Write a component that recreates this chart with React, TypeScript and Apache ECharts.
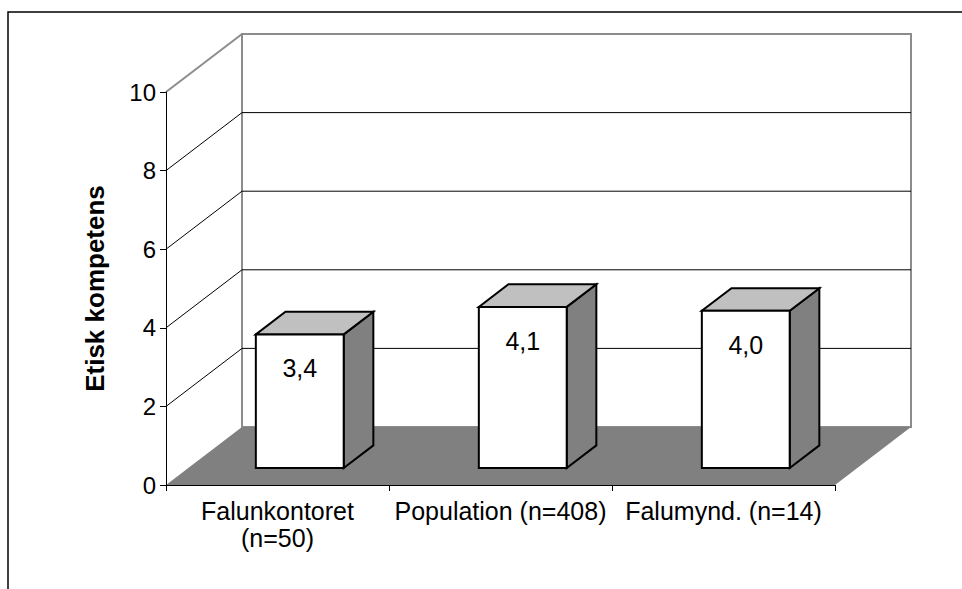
import React, { useEffect, useRef } from "react";
import * as echarts from "echarts";

const categories = ["Falunkontoret\n(n=50)", "Population (n=408)", "Falumynd. (n=14)"];
const values = [3.4, 4.1, 4.0];
const yMin = 0;
const yMax = 10;
const yStep = 2;
const axisTitle = "Etisk kompetens";

const FONT = "'Liberation Sans', Arial, sans-serif";
const DX = 76; // depth offset x
const DY = 58; // depth offset y
const FRONT = 0.293; // bar front face depth fraction
const BDEPTH = 0.39; // bar depth fraction
const BARW = 0.394; // bar width fraction of band

function fmt(v: number) {
  return v.toFixed(1).replace(".", ",");
}

export default function App() {
  const ref = useRef<HTMLDivElement>(null);
  useEffect(() => {
    if (!ref.current) return;
    const chart = echarts.init(ref.current, undefined, { renderer: "svg" });
    const gridVals: number[] = [];
    for (let v = yMin + yStep; v < yMax; v += yStep) gridVals.push(v);

    const sceneRender = (params: any, api: any) => {
      const cs = params.coordSys;
      const x0 = cs.x, x1 = cs.x + cs.width, yt = cs.y, yb = cs.y + cs.height;
      const children: any[] = [];
      children.push({
        type: "polygon",
        shape: { points: [[x0, yb], [x0, yt], [x0 + DX, yt - DY], [x0 + DX, yb - DY]] },
        style: { fill: "#ffffff" },
      });
      children.push({
        type: "rect",
        shape: { x: x0 + DX, y: yt - DY, width: cs.width, height: cs.height },
        style: { fill: "#ffffff", stroke: "#8c8c8c", lineWidth: 2 },
      });
      children.push({
        type: "polygon",
        shape: { points: [[x0, yb], [x0 + DX, yb - DY], [x1 + DX, yb - DY], [x1, yb]] },
        style: { fill: "#808080" },
      });
      gridVals.forEach((v) => {
        const y = api.coord([0, v])[1];
        children.push({
          type: "line",
          shape: { x1: x0, y1: y, x2: x0 + DX, y2: y - DY },
          style: { stroke: "#000", lineWidth: 1 },
        });
        children.push({
          type: "line",
          shape: { x1: x0 + DX, y1: y - DY, x2: x1 + DX, y2: y - DY },
          style: { stroke: "#000", lineWidth: 1 },
        });
      });
      children.push({
        type: "line",
        shape: { x1: x0, y1: yt, x2: x0 + DX, y2: yt - DY },
        style: { stroke: "#8c8c8c", lineWidth: 2 },
      });
      return { type: "group", children };
    };

    const barRender = (params: any, api: any) => {
      const idx = api.value(0);
      const v = api.value(1);
      const base = api.coord([idx, 0]);
      const topPt = api.coord([idx, v]);
      const band = api.size([1, 0])[0];
      const w = band * BARW;
      const fx = base[0] - w / 2 + DX * FRONT;
      const bottom = base[1] - DY * FRONT;
      const top = topPt[1] - DY * FRONT;
      const bdx = DX * BDEPTH, bdy = DY * BDEPTH;
      const stroke = { stroke: "#000", lineWidth: 2, lineJoin: "miter" };
      return {
        type: "group",
        children: [
          {
            type: "polygon",
            shape: { points: [[fx + w, top], [fx + w + bdx, top - bdy], [fx + w + bdx, bottom - bdy], [fx + w, bottom]] },
            style: { fill: "#808080", ...stroke },
          },
          {
            type: "polygon",
            shape: { points: [[fx, top], [fx + w, top], [fx + w + bdx, top - bdy], [fx + bdx, top - bdy]] },
            style: { fill: "#c0c0c0", ...stroke },
          },
          {
            type: "rect",
            shape: { x: fx, y: top, width: w, height: bottom - top },
            style: { fill: "#ffffff", ...stroke },
          },
          {
            type: "text",
            x: fx + w / 2,
            y: top + 34,
            style: {
              text: fmt(v),
              fill: "#000",
              fontSize: 25,
              fontFamily: FONT,
              align: "center",
              verticalAlign: "middle",
            },
          },
        ],
      };
    };

    chart.setOption({
      animation: false,
      backgroundColor: "#ffffff",
      graphic: [
        {
          type: "rect",
          z: -10,
          shape: { x: 8, y: 12, width: 1200, height: 1200 },
          style: { fill: "none", stroke: "#000", lineWidth: 1.5 },
        },
      ],
      grid: { left: 166, right: 127, top: 92, bottom: 104, containLabel: false },
      xAxis: {
        type: "category",
        data: categories,
        z: 5,
        axisLine: { show: true, lineStyle: { color: "#000", width: 1 } },
        axisTick: { show: true, length: 6, lineStyle: { color: "#000" } },
        axisLabel: {
          interval: 0,
          color: "#000",
          fontSize: 25,
          lineHeight: 27,
          fontFamily: FONT,
          margin: 12,
        },
        splitLine: { show: false },
      },
      yAxis: {
        type: "value",
        min: yMin,
        max: yMax,
        interval: yStep,
        z: 5,
        name: axisTitle,
        nameLocation: "middle",
        nameGap: 58,
        nameTextStyle: { color: "#000", fontSize: 26, fontWeight: "bold", fontFamily: FONT },
        axisLine: { show: true, lineStyle: { color: "#000", width: 1 } },
        axisTick: { show: true, length: 6, lineStyle: { color: "#000" } },
        axisLabel: { color: "#000", fontSize: 24, fontFamily: FONT, margin: 10 },
        splitLine: { show: false },
      },
      series: [
        {
          type: "custom",
          z: 1,
          silent: true,
          renderItem: sceneRender,
          data: [[0, 0]],
        },
        {
          type: "custom",
          z: 3,
          silent: true,
          renderItem: barRender,
          data: values.map((v, i) => [i, v]),
        },
      ],
    });
    return () => chart.dispose();
  }, []);
  return (
    <div
      ref={ref}
      style={{ position: "fixed", left: 0, top: 0, width: 962, height: 589, background: "#fff" }}
    />
  );
}
